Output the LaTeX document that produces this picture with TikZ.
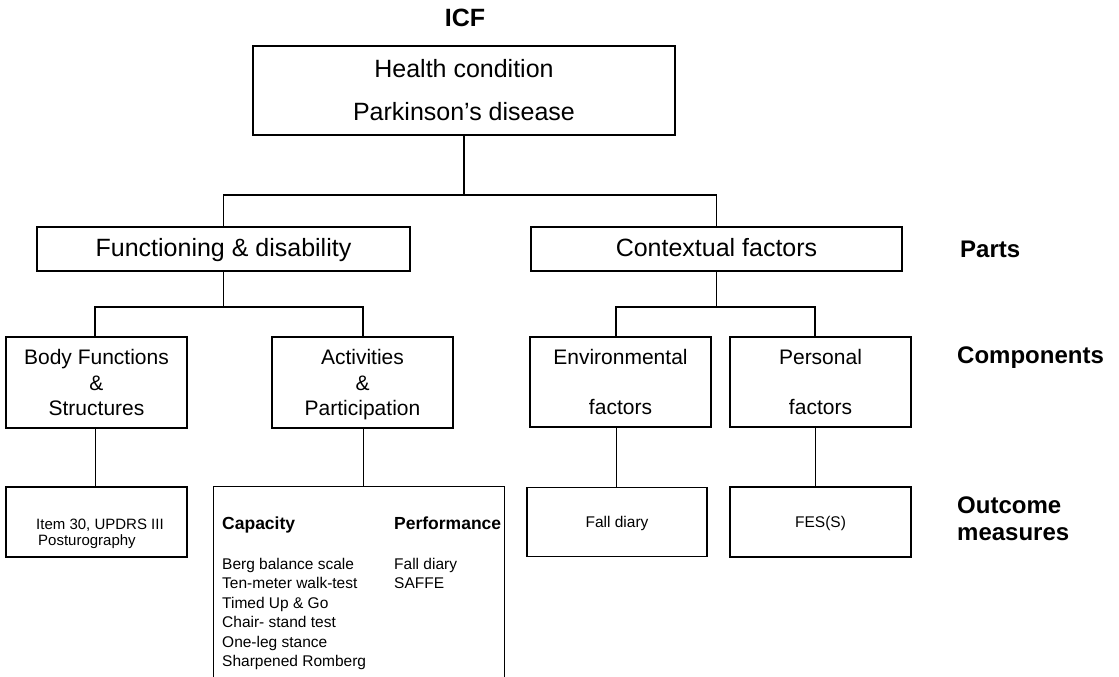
\documentclass[tikz,border=0pt]{standalone}
\usepackage{fontspec}
\setmainfont{Liberation Sans}
\begin{document}
\begin{tikzpicture}[x=1pt,y=-1pt,
  box/.style={draw, line width=1.7pt, inner sep=0pt, align=center},
  mbox/.style={draw, line width=1.2pt, inner sep=0pt, align=center},
  conA/.style={line width=1.8pt},
  conB/.style={line width=1pt},
  lbl/.style={inner sep=0pt, font=\bfseries\fontsize{24}{27}\selectfont, align=left},
  txt/.style={inner sep=0pt, align=left}]
\useasboundingbox (0,0) rectangle (1119,677);

% title
\node[inner sep=0pt, font=\bfseries\fontsize{25}{30}\selectfont] (icf) at (465,18) {ICF};

% level 1
\node[box, minimum width=422pt, minimum height=89pt, font=\fontsize{25}{43}\selectfont] (health) at (464,90.5) {Health condition\\Parkinson’s disease};

% level 2
\node[box, minimum width=373pt, minimum height=44pt, text height=20pt, text depth=5pt, font=\fontsize{25}{30}\selectfont] (func) at (223.5,249) {Functioning \& disability};
\node[box, minimum width=371pt, minimum height=44pt, text height=20pt, text depth=5pt, font=\fontsize{25}{30}\selectfont] (ctx) at (716.5,249) {Contextual factors};

% level 3
\node[box, minimum width=181pt, minimum height=91pt, font=\fontsize{21}{25.5}\selectfont] (body) at (96.5,382.5) {Body Functions\\\&\\Structures};
\node[box, minimum width=181pt, minimum height=91pt, text depth=0pt, font=\fontsize{21}{25.5}\selectfont] (act) at (362.5,382.5) {Activities\\\&\\Participation};
\node[box, minimum width=181pt, minimum height=90pt, font=\fontsize{21}{50}\selectfont] (env) at (620.5,382) {Environmental\\factors};
\node[box, minimum width=181pt, minimum height=90pt, font=\fontsize{21}{50}\selectfont] (pers) at (820.5,382) {Personal\\factors};

% level 4: outcome measures
\node[mbox, minimum width=181pt, minimum height=70pt] (m1) at (96.5,522) {};
\node[txt, anchor=north west, font=\fontsize{15}{16}\selectfont] (m1t) at (36,519) {Item 30, UPDRS III\\\hspace{2pt}Posturography};

\node[inner sep=0pt, minimum width=291pt, minimum height=200pt] (m2) at (359,587) {};
\draw[line width=1.2pt] (m2.south west) |- (m2.north east) -- (m2.south east);
\node[txt, anchor=base west, font=\bfseries\fontsize{17.5}{20}\selectfont] (cap) at (222,529) {Capacity};
\node[txt, anchor=base west, font=\bfseries\fontsize{17.5}{20}\selectfont] (perf) at (394,529) {Performance};
\node[txt, anchor=north west, font=\fontsize{15.5}{19.4}\selectfont] (caplist) at (222,558) {Berg balance scale\\Ten-meter walk-test\\Timed Up \& Go\\Chair- stand test\\One-leg stance\\Sharpened Romberg};
\node[txt, anchor=north west, font=\fontsize{15.5}{19.4}\selectfont] (perflist) at (394,558) {Fall diary\\SAFFE};

\node[mbox, minimum width=180pt, minimum height=69pt, text height=13pt, text depth=3pt, font=\fontsize{15.5}{19}\selectfont] (em) at (617,522) {Fall diary};
\node[mbox, minimum width=181pt, minimum height=70pt, text height=13pt, text depth=3pt, font=\fontsize{15.5}{19}\selectfont] (pm) at (820.5,522) {FES(S)};

% right-hand labels
\node[lbl, anchor=base west] (parts) at (960,257) {Parts};
\node[lbl, anchor=base west] (comp) at (957,363) {Components};
\node[lbl, anchor=north west] (outc) at (957,497) {Outcome\\measures};

% connector columns
\coordinate (xb) at (95,0);
\coordinate (xa) at (363,0);
\coordinate (xe) at (616,0);
\coordinate (xp) at (815,0);

% connectors
\coordinate (j1) at (health.south |- 0,195);
\coordinate (j2) at (func.south |- 0,307);
\coordinate (j3) at (ctx.south |- 0,307);
\draw[conA] (health.south) -- (j1);
\draw[conA] (func.north) |- (j1) -| (ctx.north);
\draw[conA] (func.south) -- (j2);
\draw[conA] (body.north -| xb) |- (j2) -| (act.north -| xa);
\draw[conA] (ctx.south) -- (j3);
\draw[conA] (env.north -| xe) |- (j3) -| (pers.north -| xp);
\draw[conB] (body.south -| xb) -- (m1.north -| xb);
\draw[conB] (act.south -| xa) -- (m2.north -| xa);
\draw[conB] (env.south -| xe) -- (em.north -| xe);
\draw[conB] (pers.south -| xp) -- (pm.north -| xp);
\end{tikzpicture}
\end{document}
